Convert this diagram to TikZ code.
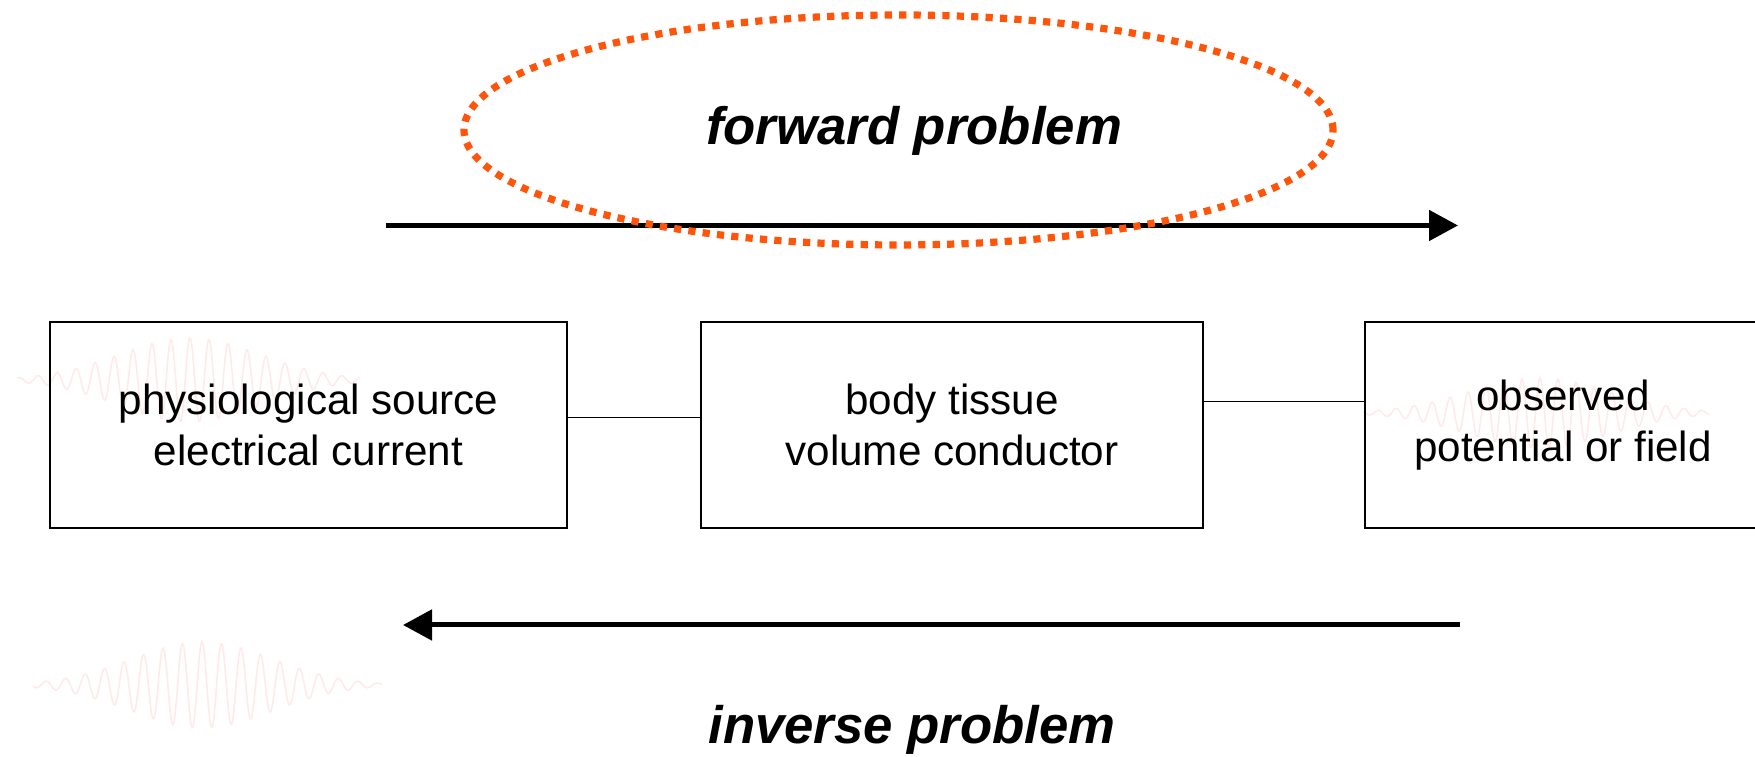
\documentclass[tikz,border=0pt]{standalone}
\usepackage{fontspec}
\setmainfont{Liberation Sans}
\usetikzlibrary{positioning}
\usetikzlibrary{arrows.meta}

\definecolor{hiorange}{RGB}{255,85,10}
\definecolor{wavepink}{RGB}{255,234,234}

% faint background burst: x0, x1, centre, baseline, amplitude, period
\newcommand{\burst}[6]{%
  \draw[wavepink, line width=0.45pt]
    plot[domain=#1:#2, samples=400, smooth]
    (\x, {#4 + #5*exp(-((\x-#3)/1.0)^2)*sin(360*(\x-#3)/#6 + 90)});
}

\begin{document}
\begin{tikzpicture}[
    block/.style={draw, line width=0.5pt, minimum height=2.06cm, inner sep=0pt,
                  align=center, font=\fontsize{12}{14.5}\selectfont},
    flow/.style={line width=1.42pt, -{Triangle[length=2.9mm, width=3.0mm]}},
    title/.style={font=\fontsize{15}{18}\selectfont\bfseries\itshape, anchor=base}
  ]
    \useasboundingbox (0,0) rectangle (17.55,7.57);

    % background bursts
    \burst{0.17}{3.60}{1.90}{3.77}{0.42}{0.19}
    \burst{13.63}{17.10}{15.40}{3.44}{0.35}{0.18}
    \burst{0.33}{3.82}{2.02}{0.72}{0.43}{0.195}

    % Blocks
    \node[block, minimum width=5.17cm] (src) at (3.085,3.32) {physiological source\\electrical current};
    \node[block, minimum width=5.02cm] (vol) at (9.52,3.32) {body tissue\\volume conductor};
    \node[block, minimum width=3.96cm] (obs) at (15.63,3.32) {observed\\potential or field};

    % Links between blocks
    \draw[line width=0.45pt] ([yshift=0.73mm]src.east) -- ([yshift=0.73mm]vol.west);
    \draw[line width=0.45pt] ([yshift=2.35mm]vol.east) -- ([yshift=2.35mm]obs.west);

    % Arrow end points
    \coordinate (fwdin)  at (3.86,5.315);
    \coordinate (fwdout) at (14.58,5.315);
    \coordinate (invin)  at (14.60,1.32);
    \coordinate (invout) at (4.03,1.32);

    % Arrows
    \draw[flow] (fwdin) -- (fwdout);
    \draw[flow] (invin) -- (invout);

    % Labels
    \node[title] (fwd) at (9.14,6.12) {forward problem};
    \node[title] (inv) at (9.12,0.13) {inverse problem};

    % highlight
    \draw[hiorange, line width=2.05pt, dash pattern=on 2.05pt off 2.05pt]
      (8.985,6.27) ellipse [x radius=4.345, y radius=1.15];
\end{tikzpicture}
\end{document}
